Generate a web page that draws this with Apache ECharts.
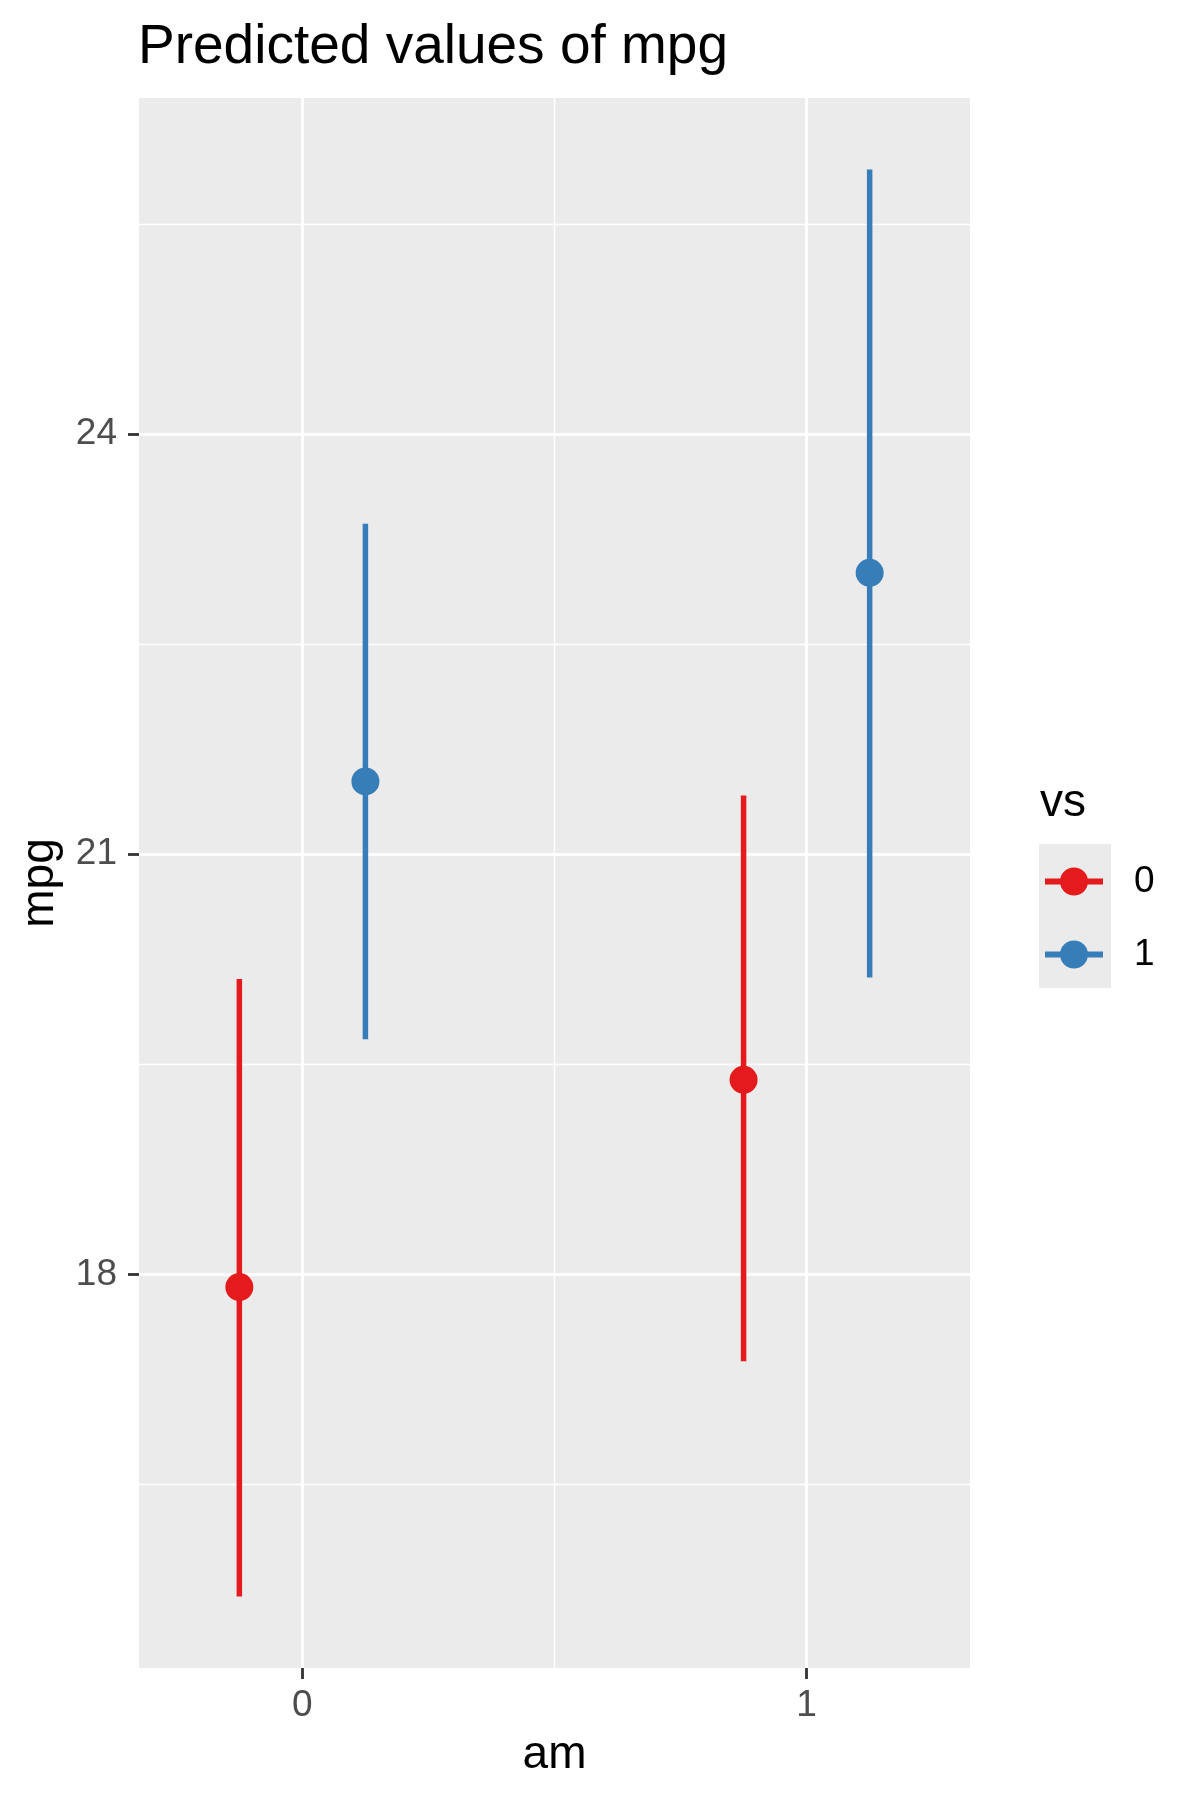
<!DOCTYPE html>
<html>
<head>
<meta charset="utf-8">
<script src="https://cdn.jsdelivr.net/npm/echarts@6/dist/echarts.min.js"></script>
<style>
  html, body { margin: 0; padding: 0; background: #fff; }
  #chart { width: 1200px; height: 1800px; }
</style>
</head>
<body>
<div id="chart"></div>
<script>
const amLevels = [0, 1];
const vsLevels = ['0', '1'];
const vsColors = ['#E41A1C', '#377EB8'];

// predicted mpg and confidence bounds, one entry per am level
const predictedVs0 = [17.91, 19.39];
const lowVs0 = [15.70, 17.38];
const highVs0 = [20.11, 21.42];
const predictedVs1 = [21.52, 23.01];
const lowVs1 = [19.68, 20.12];
const highVs1 = [23.36, 25.89];

const yMajorTicks = [18, 21, 24];
const yMinorTicks = [16.5, 19.5, 22.5, 25.5];
const xMajorTicks = [0, 1];
const xMinorTicks = [0.5];

const FONT = '"Liberation Sans", Arial, Helvetica, sans-serif';
const dodge = 0.125;

const groups = [
    { est: predictedVs0, low: lowVs0, high: highVs0 },
    { est: predictedVs1, low: lowVs1, high: highVs1 }
];

function buildRows(g, idx) {
    const offset = idx === 0 ? -dodge : dodge;
    return amLevels.map((am, i) => [am + offset, g.low[i], g.high[i], g.est[i]]);
}

function renderErrorBar(params, api) {
    const x = api.value(0);
    const top = api.coord([x, api.value(2)]);
    const bottom = api.coord([x, api.value(1)]);
    const mid = api.coord([x, api.value(3)]);
    const color = api.visual('color');
    return {
        type: 'group',
        children: [
            {
                type: 'line',
                shape: { x1: top[0], y1: top[1], x2: bottom[0], y2: bottom[1] },
                style: { stroke: color, lineWidth: 5.5 }
            },
            {
                type: 'circle',
                shape: { cx: mid[0], cy: mid[1], r: 14 },
                style: { fill: color }
            }
        ]
    };
}

const gridLines = []
    .concat(yMajorTicks.map(v => ({ yAxis: v, lineStyle: { width: 2.8 } })))
    .concat(yMinorTicks.map(v => ({ yAxis: v, lineStyle: { width: 1.4 } })))
    .concat(xMajorTicks.map(v => ({ xAxis: v, lineStyle: { width: 2.8 } })))
    .concat(xMinorTicks.map(v => ({ xAxis: v, lineStyle: { width: 1.4 } })));

// line through a dot, both drawn clockwise so the overlap stays filled
const legendIcon = 'path://M0,11H58V17H0Z M15,14A14,14 0 1,1 43,14A14,14 0 1,1 15,14Z';

const chart = echarts.init(document.getElementById('chart'), null, { renderer: 'canvas' });

const option = {
    backgroundColor: '#ffffff',
    animation: false,
    textStyle: { fontFamily: FONT },
    title: {
        text: 'Predicted values of mpg',
        left: 138,
        top: 20,
        padding: 0,
        textStyle: { fontFamily: FONT, fontSize: 55, fontWeight: 'normal', color: '#000' }
    },
    grid: {
        left: 139, right: 230, top: 98, bottom: 132,
        show: true, backgroundColor: '#EBEBEB', borderWidth: 0
    },
    xAxis: {
        type: 'value',
        min: -0.324,
        max: 1.324,
        name: 'am',
        nameLocation: 'middle',
        nameGap: 64,
        nameTextStyle: { fontFamily: FONT, fontSize: 46, color: '#000' },
        axisLine: { show: false, onZero: false },
        axisTick: { show: true, length: 11, customValues: xMajorTicks, lineStyle: { color: '#333', width: 2.8 } },
        axisLabel: { customValues: xMajorTicks, margin: 19, fontFamily: FONT, fontSize: 37, color: '#4D4D4D' },
        splitLine: { show: false }
    },
    yAxis: {
        type: 'value',
        min: 15.19,
        max: 26.40,
        name: 'mpg',
        nameLocation: 'middle',
        nameRotate: 90,
        nameGap: 76,
        nameTextStyle: { fontFamily: FONT, fontSize: 46, color: '#000' },
        axisLine: { show: false, onZero: false },
        axisTick: { show: true, length: 11, customValues: yMajorTicks, lineStyle: { color: '#333', width: 2.8 } },
        axisLabel: { customValues: yMajorTicks, margin: 22, fontFamily: FONT, fontSize: 37, color: '#4D4D4D' },
        splitLine: { show: false }
    },
    legend: {
        orient: 'vertical',
        left: 1040,
        top: 858,
        itemWidth: 58,
        itemHeight: 28,
        itemGap: 36,
        icon: legendIcon,
        selectedMode: false,
        textStyle: { fontFamily: FONT, fontSize: 37, color: '#000', padding: [0, 0, 0, 26] },
        data: vsLevels
    },
    graphic: [
        {
            type: 'rect', left: 1039, top: 844, z: -1,
            shape: { width: 72, height: 144 },
            style: { fill: '#EBEBEB' }
        },
        {
            type: 'text', left: 1040, top: 780,
            style: { text: 'vs', font: '46px ' + FONT, fill: '#000' }
        }
    ],
    series: [
        {
            name: 'grid',
            type: 'line',
            data: [],
            z: 1,
            silent: true,
            markLine: {
                silent: true,
                symbol: 'none',
                label: { show: false },
                lineStyle: { color: '#ffffff', type: 'solid' },
                data: gridLines
            }
        }
    ].concat(groups.map((g, idx) => ({
        name: vsLevels[idx],
        type: 'custom',
        z: 5,
        itemStyle: { color: vsColors[idx] },
        encode: { x: 0, y: [1, 2, 3] },
        renderItem: renderErrorBar,
        data: buildRows(g, idx)
    })))
};

chart.setOption(option);
</script>
</body>
</html>
